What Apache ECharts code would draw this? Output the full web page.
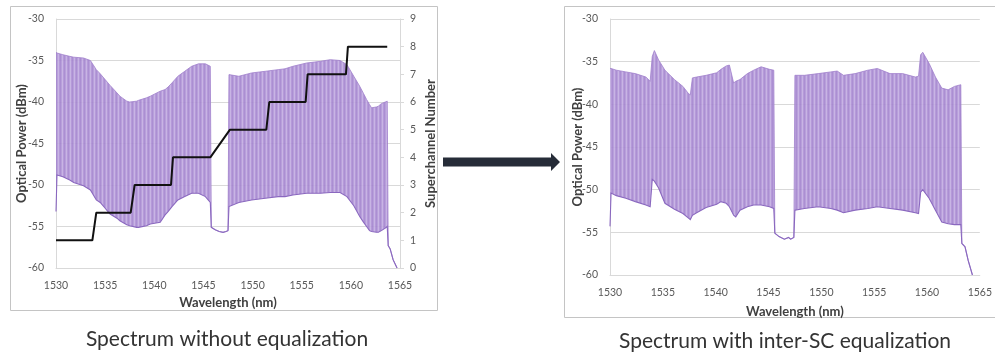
<!DOCTYPE html>
<html>
<head>
<meta charset="utf-8">
<script src="https://cdn.jsdelivr.net/npm/echarts@6/dist/echarts.min.js"></script>
<style>
  html, body { margin: 0; padding: 0; background: #fff; }
  #chart { width: 995px; height: 354px; }
</style>
</head>
<body>
<div id="chart"></div>
<script>
// spectrum without equalization: wavelength, top and bottom of the comb (dBm)
const wlRaw = [1530.0, 1530.1, 1530.7, 1531.4, 1531.8, 1532.8, 1533.5, 1534.1, 1534.5, 1535.0, 1535.5, 1536.2, 1536.5, 1537.2, 1537.5, 1538.2, 1538.4, 1539.2, 1539.6, 1540.6, 1541.1, 1541.4, 1541.8, 1542.4, 1543.1, 1543.8, 1544.5, 1545.2, 1545.7,
  1545.8, 1546.2, 1546.6, 1547.0, 1547.3, 1547.5,
  1547.6, 1548.6, 1549.9, 1551.3, 1552.6, 1553.3, 1554.1, 1555.5, 1556.9, 1557.9, 1558.9, 1559.6, 1560.3, 1560.9, 1561.3, 1561.6, 1561.9, 1562.1, 1562.6, 1562.8, 1563.1, 1563.5, 1563.7,
  1563.8, 1564.0, 1564.3, 1564.7];
const topRaw = [-34.0, -34.1, -34.3, -34.5, -34.6, -34.7, -35.0, -36.1, -36.6, -37.3, -38.0, -38.9, -39.3, -39.9, -40.0, -39.9, -39.8, -39.5, -39.3, -38.7, -38.5, -38.2, -37.7, -36.9, -36.3, -35.7, -35.4, -35.4, -35.7,
  -55.1, -55.4, -55.6, -55.7, -55.6, -55.5,
  -36.7, -36.9, -36.5, -36.3, -36.1, -36.0, -35.7, -35.3, -35.1, -34.9, -35.0, -35.5, -36.9, -38.1, -39.0, -39.7, -40.3, -40.7, -40.6, -40.5, -40.2, -40.0, -39.9,
  -57.3, -57.7, -59.0, -60.0];
const botRaw = [-53.2, -48.8, -49.0, -49.4, -49.7, -50.1, -50.6, -51.8, -52.1, -52.8, -53.5, -54.0, -54.3, -54.8, -54.9, -55.1, -55.1, -54.9, -54.7, -54.5, -53.6, -53.2, -52.6, -51.8, -51.4, -51.0, -51.0, -51.4, -52.1,
  -55.1, -55.4, -55.6, -55.7, -55.6, -55.5,
  -52.6, -52.1, -51.8, -51.6, -51.4, -51.4, -51.2, -51.0, -51.0, -50.9, -50.9, -51.4, -52.5, -53.8, -54.5, -55.0, -55.5, -55.6, -55.7, -55.7, -55.5, -55.2, -55.0,
  -57.3, -57.7, -59.0, -60.0];

// superchannel number staircase
const stepWl = [1530, 1533.7, 1534.1, 1537.6, 1538.0, 1541.7, 1541.9, 1545.7, 1547.7, 1551.4, 1551.7, 1555.4, 1555.6, 1559.5, 1559.7, 1563.7];
const stepNum = [1, 1, 2, 2, 3, 3, 4, 4, 5, 5, 6, 6, 7, 7, 8, 8];

// spectrum with inter-SC equalization
const wlEq = [1530.0, 1530.1, 1530.6, 1531.5, 1532.4, 1533.4, 1533.8, 1534.0, 1534.2, 1534.6, 1535.2, 1536.1, 1536.9, 1537.4, 1537.6, 1537.8, 1538.2, 1539.1, 1540.1, 1540.5, 1541.0, 1541.3, 1541.7, 1541.9, 1542.3, 1543.0, 1543.6, 1544.3, 1545.1, 1545.5,
  1545.6, 1546.0, 1546.5, 1546.9, 1547.1, 1547.4,
  1547.5, 1548.4, 1549.7, 1550.9, 1551.5, 1552.1, 1553.2, 1554.4, 1555.3, 1556.5, 1557.7, 1558.9, 1559.2, 1559.4, 1559.6, 1560.2, 1560.8, 1561.4, 1562.0, 1562.6, 1563.2,
  1563.3, 1563.6, 1563.9, 1564.3];
const topEq = [-35.8, -35.8, -36.0, -36.2, -36.4, -36.8, -37.3, -34.4, -33.7, -34.8, -36.0, -37.1, -37.9, -38.7, -38.9, -36.9, -36.8, -36.6, -36.3, -35.9, -35.5, -35.4, -37.5, -37.3, -37.1, -36.4, -36.0, -35.6, -35.9, -36.0,
  -55.1, -55.5, -55.8, -55.6, -55.8, -55.6,
  -36.6, -36.6, -36.4, -36.2, -36.1, -36.6, -36.4, -36.0, -35.8, -36.4, -36.4, -36.8, -36.7, -34.2, -33.9, -35.2, -36.8, -38.1, -38.3, -37.9, -37.7,
  -56.3, -56.7, -58.3, -60.0];
const botEq = [-54.3, -50.4, -50.7, -51.0, -51.4, -51.8, -52.0, -48.8, -49.0, -49.8, -51.6, -52.3, -52.8, -53.3, -53.5, -53.0, -52.7, -52.1, -51.7, -51.4, -51.6, -52.0, -53.0, -53.2, -52.4, -52.0, -51.8, -51.8, -52.0, -52.2,
  -55.1, -55.5, -55.8, -55.6, -55.8, -55.6,
  -52.4, -52.2, -52.0, -52.2, -52.4, -52.7, -52.4, -52.2, -52.0, -52.2, -52.4, -52.7, -52.8, -50.3, -50.0, -51.0, -52.4, -53.8, -54.0, -54.1, -54.1,
  -56.3, -56.7, -58.3, -60.0];

const captionRaw = "Spectrum without equalization";
const captionEq = "Spectrum with inter-SC equalization";

const FONT = "Lato, 'Open Sans', sans-serif";

// vertical stripe texture for the dense comb of subcarriers
const comb = document.createElement("canvas");
comb.width = 4;
comb.height = 4;
const cctx = comb.getContext("2d");
["#a283ce", "#b195d8", "#c2ace2", "#ad90d5"].forEach((c, i) => {
  cctx.fillStyle = c;
  cctx.fillRect(i, 0, 1, 4);
});

// band between bottom and top of the comb, drawn once through the axis scales
const spectrum = (name, grid, wl, top, bot) => ({
  type: "custom",
  name,
  xAxisIndex: grid,
  yAxisIndex: grid === 0 ? 0 : 2,
  data: wl.map((w, i) => [w, top[i], bot[i]]),
  encode: { x: 0, y: [1, 2] },
  silent: true,
  z: 3,
  renderItem(params, api) {
    if (params.dataIndex !== 0) return;
    const upper = wl.map((w, i) => api.coord([w, top[i]]));
    const lower = wl.map((w, i) => api.coord([w, bot[i]]));
    return {
      type: "group",
      children: [
        {
          type: "polygon",
          shape: { points: upper.concat(lower.slice().reverse()) },
          style: { fill: { image: comb, repeat: "repeat" }, opacity: 0.9 },
        },
        {
          type: "polyline",
          shape: { points: upper },
          style: { fill: null, stroke: "#a07fcc", lineWidth: 0.8 },
        },
        {
          type: "polyline",
          shape: { points: lower },
          style: { fill: null, stroke: "#8a68bf", lineWidth: 1.1 },
        },
      ],
    };
  },
});

const tickLabel = { color: "#595959", fontSize: 10.5, fontFamily: FONT };
const axisTitle = { color: "#404040", fontSize: 13, fontWeight: "bold", fontFamily: FONT };
const grayLine = { lineStyle: { color: "#d9d9d9", width: 1 } };

const xAxisFor = (grid, gap) => ({
  type: "value",
  gridIndex: grid,
  min: 1530,
  max: 1565,
  interval: 5,
  name: "Wavelength (nm)",
  nameLocation: "middle",
  nameGap: gap,
  nameTextStyle: axisTitle,
  axisLine: { show: true, ...grayLine },
  axisTick: { show: false },
  axisLabel: { ...tickLabel, margin: 12, formatter: (v) => String(v) },
  splitLine: { show: false },
});

const powerAxis = (grid, gap) => ({
  type: "value",
  gridIndex: grid,
  min: -60,
  max: -30,
  interval: 5,
  name: "Optical Power (dBm)",
  nameLocation: "middle",
  nameRotate: 90,
  nameGap: gap,
  nameMoveOverlap: false,
  nameTextStyle: axisTitle,
  axisLine: { show: true, ...grayLine },
  axisTick: { show: false },
  axisLabel: { ...tickLabel, margin: 12 },
  splitLine: { show: true, ...grayLine },
});

const chart = echarts.init(document.getElementById("chart"), null, { renderer: "canvas" });

chart.setOption({
  backgroundColor: "#fff",
  animation: false,
  grid: [
    { left: 56, top: 19, width: 344, height: 249 },
    { left: 610, top: 19, width: 383, height: 256 },
  ],
  xAxis: [xAxisFor(0, 28), xAxisFor(1, 30)],
  yAxis: [
    powerAxis(0, 28),
    {
      type: "value",
      gridIndex: 0,
      position: "right",
      min: 0,
      max: 9,
      interval: 1,
      name: "Superchannel Number",
      nameLocation: "middle",
      nameRotate: 90,
      nameGap: 24,
      nameTextStyle: axisTitle,
      axisLine: { show: true, ...grayLine },
      axisTick: { show: true, length: 4, ...grayLine },
      axisLabel: { ...tickLabel, margin: 10 },
      splitLine: { show: false },
    },
    powerAxis(1, 26),
  ],
  series: [
    spectrum("raw", 0, wlRaw, topRaw, botRaw),
    {
      type: "line",
      name: "Superchannel",
      xAxisIndex: 0,
      yAxisIndex: 1,
      data: stepWl.map((w, i) => [w, stepNum[i]]),
      symbol: "none",
      lineStyle: { color: "#111", width: 2 },
      silent: true,
      z: 5,
    },
    spectrum("eq", 1, wlEq, topEq, botEq),
  ],
  graphic: [
    {
      type: "rect",
      shape: { x: 10.5, y: 6.5, width: 427, height: 304 },
      style: { fill: null, stroke: "#c4c4c4", lineWidth: 1 },
      silent: true,
    },
    {
      type: "rect",
      shape: { x: 564.5, y: 6.5, width: 440, height: 311 },
      style: { fill: null, stroke: "#c4c4c4", lineWidth: 1 },
      silent: true,
    },
    {
      type: "polygon",
      shape: {
        points: [[443, 157.5], [551, 157.5], [551, 153], [560, 162], [551, 171], [551, 166.5], [443, 166.5]],
      },
      style: { fill: "#262c38" },
      silent: true,
    },
    {
      type: "text",
      x: 227,
      y: 339,
      style: { text: captionRaw, fill: "#333", font: "21px " + FONT, textAlign: "center", textVerticalAlign: "middle" },
      silent: true,
    },
    {
      type: "text",
      x: 785,
      y: 341,
      style: { text: captionEq, fill: "#333", font: "21px " + FONT, textAlign: "center", textVerticalAlign: "middle" },
      silent: true,
    },
  ],
});
</script>
</body>
</html>
